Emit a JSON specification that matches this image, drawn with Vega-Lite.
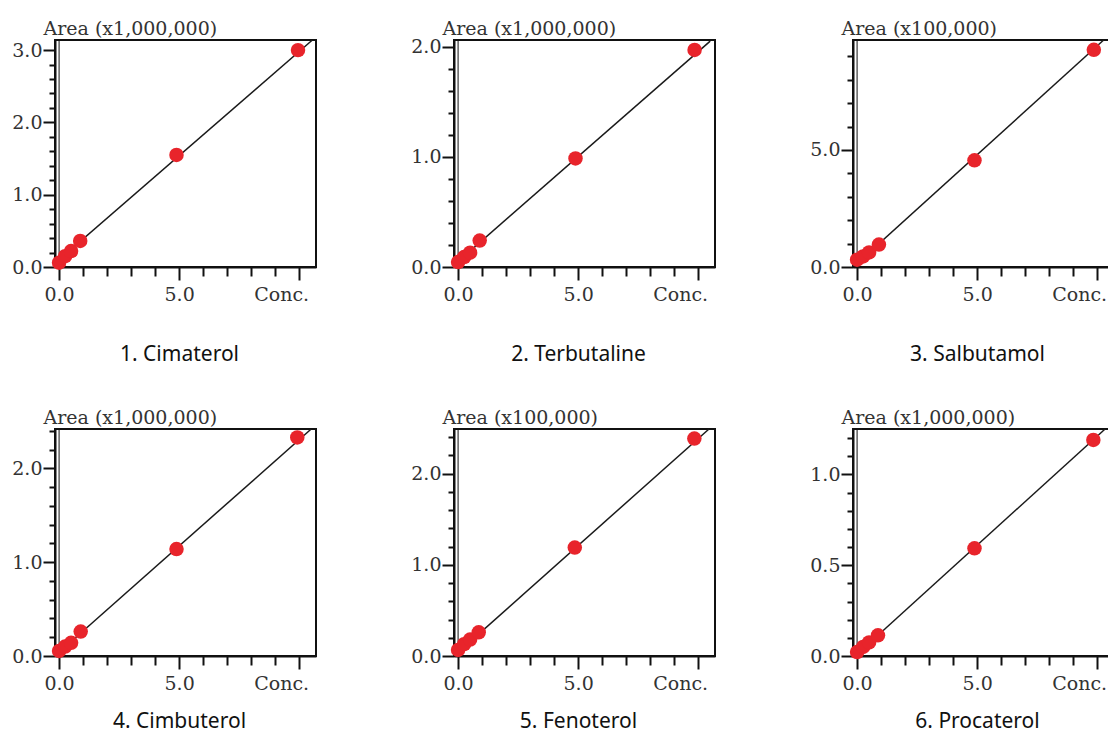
{
  "$schema": "https://vega.github.io/schema/vega-lite/v6.json",
  "background": "white",
  "padding": {"left": 10, "top": 18, "right": 0, "bottom": 0},
  "bounds": "flush",
  "spacing": 389,
  "datasets": {
    "p1": [
      {"kind": "zero", "conc": 0, "area": 0}, {"kind": "zero", "conc": 0, "area": 3.14},
      {"kind": "fit", "conc": 0, "area": 0.1}, {"kind": "fit", "conc": 10.55, "area": 3.14},
      {"kind": "point", "conc": 0, "area": 0.06}, {"kind": "point", "conc": 0.25, "area": 0.15},
      {"kind": "point", "conc": 0.5, "area": 0.22}, {"kind": "point", "conc": 0.88, "area": 0.36},
      {"kind": "point", "conc": 4.89, "area": 1.55}, {"kind": "point", "conc": 9.95, "area": 3.0}
    ],
    "p2": [
      {"kind": "zero", "conc": 0, "area": 0}, {"kind": "zero", "conc": 0, "area": 2.06},
      {"kind": "fit", "conc": 0, "area": 0.05}, {"kind": "fit", "conc": 10.5, "area": 2.05},
      {"kind": "point", "conc": 0, "area": 0.045}, {"kind": "point", "conc": 0.25, "area": 0.09},
      {"kind": "point", "conc": 0.5, "area": 0.13}, {"kind": "point", "conc": 0.9, "area": 0.24},
      {"kind": "point", "conc": 4.89, "area": 0.985}, {"kind": "point", "conc": 9.85, "area": 1.97}
    ],
    "p3": [
      {"kind": "zero", "conc": 0, "area": 0}, {"kind": "zero", "conc": 0, "area": 9.7},
      {"kind": "fit", "conc": 0, "area": 0.15}, {"kind": "fit", "conc": 10.27, "area": 9.7},
      {"kind": "point", "conc": 0, "area": 0.31}, {"kind": "point", "conc": 0.25, "area": 0.45},
      {"kind": "point", "conc": 0.5, "area": 0.62}, {"kind": "point", "conc": 0.91, "area": 0.96},
      {"kind": "point", "conc": 4.89, "area": 4.56}, {"kind": "point", "conc": 9.86, "area": 9.28}
    ],
    "p4": [
      {"kind": "zero", "conc": 0, "area": 0}, {"kind": "zero", "conc": 0, "area": 2.42},
      {"kind": "fit", "conc": 0, "area": 0.04}, {"kind": "fit", "conc": 10.5, "area": 2.42},
      {"kind": "point", "conc": 0, "area": 0.054}, {"kind": "point", "conc": 0.25, "area": 0.1},
      {"kind": "point", "conc": 0.5, "area": 0.14}, {"kind": "point", "conc": 0.9, "area": 0.26},
      {"kind": "point", "conc": 4.89, "area": 1.14}, {"kind": "point", "conc": 9.92, "area": 2.33}
    ],
    "p5": [
      {"kind": "zero", "conc": 0, "area": 0}, {"kind": "zero", "conc": 0, "area": 2.49},
      {"kind": "fit", "conc": 0, "area": 0.04}, {"kind": "fit", "conc": 10.45, "area": 2.49},
      {"kind": "point", "conc": 0, "area": 0.066}, {"kind": "point", "conc": 0.25, "area": 0.13},
      {"kind": "point", "conc": 0.5, "area": 0.18}, {"kind": "point", "conc": 0.86, "area": 0.26},
      {"kind": "point", "conc": 4.86, "area": 1.19}, {"kind": "point", "conc": 9.84, "area": 2.385}
    ],
    "p6": [
      {"kind": "zero", "conc": 0, "area": 0}, {"kind": "zero", "conc": 0, "area": 1.25},
      {"kind": "fit", "conc": 0, "area": 0.01}, {"kind": "fit", "conc": 10.33, "area": 1.25},
      {"kind": "point", "conc": 0, "area": 0.022}, {"kind": "point", "conc": 0.25, "area": 0.05},
      {"kind": "point", "conc": 0.5, "area": 0.075}, {"kind": "point", "conc": 0.87, "area": 0.114},
      {"kind": "point", "conc": 4.89, "area": 0.593}, {"kind": "point", "conc": 9.84, "area": 1.19}
    ]
  },
  "vconcat": [
    {
      "bounds": "flush",
      "spacing": 138,
      "hconcat": [
        {
          "width": 261, "height": 227, "data": {"name": "p1"},
          "encoding": {
            "x": {"field": "conc", "type": "quantitative", "scale": {"domain": [-0.17, 10.7], "nice": false, "zero": false},
              "axis": {"values": [0,1,2,3,4,5,6,7,8,9,10],
                "labelExpr": "datum.value == 10 ? 'Conc.' : (datum.value % 5 == 0 ? format(datum.value, '.1f') : '')",
                "tickSize": {"condition": {"test": "datum.value % 5 == 0", "value": 13}, "value": 9},
                "labelOffset": {"condition": {"test": "datum.value == 10", "value": -18}, "value": 0},
                "title": "1. Cimaterol", "titleY": 87}},
            "y": {"field": "area", "type": "quantitative", "scale": {"domain": [0, 3.14], "nice": false},
              "axis": {"values": [0,0.2,0.4,0.6,0.8,1,1.2,1.4,1.6,1.8,2,2.2,2.4,2.6,2.8,3],
                "labelExpr": "abs(datum.value - round(datum.value)) < 0.001 ? format(datum.value, '.1f') : ''",
                "tickSize": {"condition": {"test": "abs(datum.value - round(datum.value)) < 0.001", "value": 12}, "value": 6},
                "title": "Area (x1,000,000)"}}
          },
          "layer": [
            {"transform": [{"filter": "datum.kind == 'zero'"}], "mark": {"type": "line", "color": "#111", "strokeWidth": 1}, "encoding": {}},
            {"transform": [{"filter": "datum.kind == 'fit'"}], "mark": {"type": "line", "color": "#1a1a1a", "strokeWidth": 1.5}, "encoding": {}},
            {"transform": [{"filter": "datum.kind == 'point'"}], "mark": {"type": "circle", "color": "#e8242b", "size": 210, "opacity": 1}, "encoding": {}}
          ]
        },
        {
          "width": 261, "height": 227, "data": {"name": "p2"},
          "encoding": {
            "x": {"field": "conc", "type": "quantitative", "scale": {"domain": [-0.17, 10.7], "nice": false, "zero": false},
              "axis": {"values": [0,1,2,3,4,5,6,7,8,9,10],
                "labelExpr": "datum.value == 10 ? 'Conc.' : (datum.value % 5 == 0 ? format(datum.value, '.1f') : '')",
                "tickSize": {"condition": {"test": "datum.value % 5 == 0", "value": 13}, "value": 9},
                "labelOffset": {"condition": {"test": "datum.value == 10", "value": -18}, "value": 0},
                "title": "2. Terbutaline", "titleY": 87}},
            "y": {"field": "area", "type": "quantitative", "scale": {"domain": [0, 2.06], "nice": false},
              "axis": {"values": [0,0.2,0.4,0.6,0.8,1,1.2,1.4,1.6,1.8,2],
                "labelExpr": "abs(datum.value - round(datum.value)) < 0.001 ? format(datum.value, '.1f') : ''",
                "tickSize": {"condition": {"test": "abs(datum.value - round(datum.value)) < 0.001", "value": 12}, "value": 6},
                "title": "Area (x1,000,000)"}}
          },
          "layer": [
            {"transform": [{"filter": "datum.kind == 'zero'"}], "mark": {"type": "line", "color": "#111", "strokeWidth": 1}, "encoding": {}},
            {"transform": [{"filter": "datum.kind == 'fit'"}], "mark": {"type": "line", "color": "#1a1a1a", "strokeWidth": 1.5}, "encoding": {}},
            {"transform": [{"filter": "datum.kind == 'point'"}], "mark": {"type": "circle", "color": "#e8242b", "size": 210, "opacity": 1}, "encoding": {}}
          ]
        },
        {
          "width": 261, "height": 227, "data": {"name": "p3"},
          "encoding": {
            "x": {"field": "conc", "type": "quantitative", "scale": {"domain": [-0.17, 10.7], "nice": false, "zero": false},
              "axis": {"values": [0,1,2,3,4,5,6,7,8,9,10],
                "labelExpr": "datum.value == 10 ? 'Conc.' : (datum.value % 5 == 0 ? format(datum.value, '.1f') : '')",
                "tickSize": {"condition": {"test": "datum.value % 5 == 0", "value": 13}, "value": 9},
                "labelOffset": {"condition": {"test": "datum.value == 10", "value": -18}, "value": 0},
                "title": "3. Salbutamol", "titleY": 87}},
            "y": {"field": "area", "type": "quantitative", "scale": {"domain": [0, 9.7], "nice": false},
              "axis": {"values": [0,1,2,3,4,5,6,7,8,9],
                "labelExpr": "datum.value % 5 == 0 ? format(datum.value, '.1f') : ''",
                "tickSize": {"condition": {"test": "datum.value % 5 == 0", "value": 12}, "value": 6},
                "title": "Area (x100,000)"}}
          },
          "layer": [
            {"transform": [{"filter": "datum.kind == 'zero'"}], "mark": {"type": "line", "color": "#111", "strokeWidth": 1}, "encoding": {}},
            {"transform": [{"filter": "datum.kind == 'fit'"}], "mark": {"type": "line", "color": "#1a1a1a", "strokeWidth": 1.5}, "encoding": {}},
            {"transform": [{"filter": "datum.kind == 'point'"}], "mark": {"type": "circle", "color": "#e8242b", "size": 210, "opacity": 1}, "encoding": {}}
          ]
        }
      ]
    },
    {
      "bounds": "flush",
      "spacing": 138,
      "hconcat": [
        {
          "width": 261, "height": 227, "data": {"name": "p4"},
          "encoding": {
            "x": {"field": "conc", "type": "quantitative", "scale": {"domain": [-0.17, 10.7], "nice": false, "zero": false},
              "axis": {"values": [0,1,2,3,4,5,6,7,8,9,10],
                "labelExpr": "datum.value == 10 ? 'Conc.' : (datum.value % 5 == 0 ? format(datum.value, '.1f') : '')",
                "tickSize": {"condition": {"test": "datum.value % 5 == 0", "value": 13}, "value": 9},
                "labelOffset": {"condition": {"test": "datum.value == 10", "value": -18}, "value": 0},
                "title": "4. Cimbuterol", "titleY": 65}},
            "y": {"field": "area", "type": "quantitative", "scale": {"domain": [0, 2.42], "nice": false},
              "axis": {"values": [0,0.2,0.4,0.6,0.8,1,1.2,1.4,1.6,1.8,2,2.2,2.4],
                "labelExpr": "abs(datum.value - round(datum.value)) < 0.001 ? format(datum.value, '.1f') : ''",
                "tickSize": {"condition": {"test": "abs(datum.value - round(datum.value)) < 0.001", "value": 12}, "value": 6},
                "title": "Area (x1,000,000)"}}
          },
          "layer": [
            {"transform": [{"filter": "datum.kind == 'zero'"}], "mark": {"type": "line", "color": "#111", "strokeWidth": 1}, "encoding": {}},
            {"transform": [{"filter": "datum.kind == 'fit'"}], "mark": {"type": "line", "color": "#1a1a1a", "strokeWidth": 1.5}, "encoding": {}},
            {"transform": [{"filter": "datum.kind == 'point'"}], "mark": {"type": "circle", "color": "#e8242b", "size": 210, "opacity": 1}, "encoding": {}}
          ]
        },
        {
          "width": 261, "height": 227, "data": {"name": "p5"},
          "encoding": {
            "x": {"field": "conc", "type": "quantitative", "scale": {"domain": [-0.17, 10.7], "nice": false, "zero": false},
              "axis": {"values": [0,1,2,3,4,5,6,7,8,9,10],
                "labelExpr": "datum.value == 10 ? 'Conc.' : (datum.value % 5 == 0 ? format(datum.value, '.1f') : '')",
                "tickSize": {"condition": {"test": "datum.value % 5 == 0", "value": 13}, "value": 9},
                "labelOffset": {"condition": {"test": "datum.value == 10", "value": -18}, "value": 0},
                "title": "5. Fenoterol", "titleY": 65}},
            "y": {"field": "area", "type": "quantitative", "scale": {"domain": [0, 2.49], "nice": false},
              "axis": {"values": [0,0.2,0.4,0.6,0.8,1,1.2,1.4,1.6,1.8,2,2.2,2.4],
                "labelExpr": "abs(datum.value - round(datum.value)) < 0.001 ? format(datum.value, '.1f') : ''",
                "tickSize": {"condition": {"test": "abs(datum.value - round(datum.value)) < 0.001", "value": 12}, "value": 6},
                "title": "Area (x100,000)"}}
          },
          "layer": [
            {"transform": [{"filter": "datum.kind == 'zero'"}], "mark": {"type": "line", "color": "#111", "strokeWidth": 1}, "encoding": {}},
            {"transform": [{"filter": "datum.kind == 'fit'"}], "mark": {"type": "line", "color": "#1a1a1a", "strokeWidth": 1.5}, "encoding": {}},
            {"transform": [{"filter": "datum.kind == 'point'"}], "mark": {"type": "circle", "color": "#e8242b", "size": 210, "opacity": 1}, "encoding": {}}
          ]
        },
        {
          "width": 261, "height": 227, "data": {"name": "p6"},
          "encoding": {
            "x": {"field": "conc", "type": "quantitative", "scale": {"domain": [-0.17, 10.7], "nice": false, "zero": false},
              "axis": {"values": [0,1,2,3,4,5,6,7,8,9,10],
                "labelExpr": "datum.value == 10 ? 'Conc.' : (datum.value % 5 == 0 ? format(datum.value, '.1f') : '')",
                "tickSize": {"condition": {"test": "datum.value % 5 == 0", "value": 13}, "value": 9},
                "labelOffset": {"condition": {"test": "datum.value == 10", "value": -18}, "value": 0},
                "title": "6. Procaterol", "titleY": 65}},
            "y": {"field": "area", "type": "quantitative", "scale": {"domain": [0, 1.25], "nice": false},
              "axis": {"values": [0,0.1,0.2,0.3,0.4,0.5,0.6,0.7,0.8,0.9,1,1.1,1.2],
                "labelExpr": "abs(datum.value * 2 - round(datum.value * 2)) < 0.001 ? format(datum.value, '.1f') : ''",
                "tickSize": {"condition": {"test": "abs(datum.value * 2 - round(datum.value * 2)) < 0.001", "value": 12}, "value": 6},
                "title": "Area (x1,000,000)"}}
          },
          "layer": [
            {"transform": [{"filter": "datum.kind == 'zero'"}], "mark": {"type": "line", "color": "#111", "strokeWidth": 1}, "encoding": {}},
            {"transform": [{"filter": "datum.kind == 'fit'"}], "mark": {"type": "line", "color": "#1a1a1a", "strokeWidth": 1.5}, "encoding": {}},
            {"transform": [{"filter": "datum.kind == 'point'"}], "mark": {"type": "circle", "color": "#e8242b", "size": 210, "opacity": 1}, "encoding": {}}
          ]
        }
      ]
    }
  ],
  "config": {
    "view": {"stroke": "#111", "strokeWidth": 2},
    "axis": {"grid": false, "domainColor": "#111", "domainWidth": 2, "tickColor": "#111", "tickWidth": 2,
      "labelFont": "DejaVu Serif", "labelFontSize": 19, "labelColor": "#333", "labelFlush": false, "labelOverlap": false, "labelBound": false,
      "titleFontWeight": "normal"},
    "axisX": {"titleFont": "Noto Sans", "titleFontSize": 21, "titleColor": "#111", "titleAlign": "center", "titleBaseline": "middle", "titleX": 124, "labelPadding": 5},
    "axisY": {"titleFont": "DejaVu Serif", "titleFontSize": 19, "titleColor": "#333", "titleAngle": 0, "titleAlign": "left", "titleBaseline": "alphabetic", "titleX": -12, "titleY": -6, "labelPadding": 1}
  }
}
